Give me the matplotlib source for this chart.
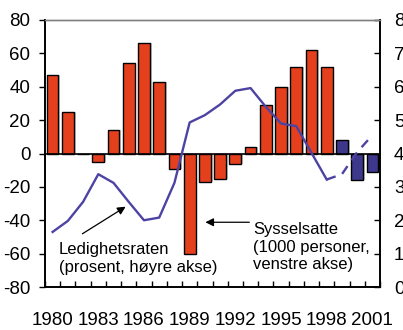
import matplotlib.pyplot as plt
from matplotlib import font_manager

# Employment change (1000 persons, left axis) and unemployment rate (%, right axis)
years = list(range(1980, 2002))
employed = [47, 25, 0, -5, 14, 54, 66, 43, -9, -60, -17, -15, -6, 4, 29, 40, 52, 62, 52,
            8, -16, -11]
forecast_from = 1999
unemployment = [1.65, 1.98, 2.55, 3.38, 3.12, 2.55, 2.0, 2.08, 3.12, 4.93, 5.15, 5.47,
                5.88, 5.96, 5.4, 4.9, 4.82, 4.02, 3.22, 3.38, 4.04, 4.55]
label_years = [1980, 1983, 1986, 1989, 1992, 1995, 1998, 2001]

red = '#e5401d'
blue = '#3d388c'
line_col = '#4d43a3'

plt.rcParams['axes.unicode_minus'] = False

names = {f.name for f in font_manager.fontManager.ttflist}
narrow = 'Liberation Sans Narrow' if 'Liberation Sans Narrow' in names else 'Liberation Sans'
tick_size = 16 if narrow == 'Liberation Sans Narrow' else 13.5

fig = plt.figure(figsize=(4.03, 3.30), dpi=100)
ax = fig.add_axes([45 / 403, 43 / 330, 335 / 403, 267 / 330])
ax2 = ax.twinx()

# Bars with a soft drop shadow
colors = [red if y < forecast_from else blue for y in years]
ax.bar([y + 0.12 for y in years], employed, width=0.77, color='#c8c8c8', zorder=1)
ax.bar(years, employed, width=0.77, color=colors, edgecolor='black', linewidth=1, zorder=2)
ax.axhline(0, color='black', lw=1.2, zorder=3)

# Unemployment line: solid history, dashed projection
n = years.index(1998) + 1
ax2.plot(years[:n], unemployment[:n], color=line_col, lw=1.7, zorder=4)
ax2.plot(years[n - 1:], unemployment[n - 1:], color=line_col, lw=1.7, ls=(0, (4, 3)), zorder=4)

ax.set_xlim(1979.5, 2001.5)
ax.set_ylim(-80, 80)
ax2.set_ylim(0, 8)

ax.set_yticks(range(-80, 81, 20))
ax2.set_yticks(range(0, 9))
ax.set_xticks(label_years)
ax.set_xticks([y - 0.5 for y in years] + [2001.5], minor=True)

ax.tick_params(axis='y', direction='out', length=4, width=1, pad=6.5,
               labelsize=tick_size, labelfontfamily=narrow)
ax2.tick_params(axis='y', direction='in', length=4, width=1, pad=10,
                labelsize=tick_size, labelfontfamily=narrow)
ax.tick_params(axis='x', which='major', length=0, pad=18,
               labelsize=tick_size, labelfontfamily=narrow)
ax.tick_params(axis='x', which='minor', direction='in', length=4, width=1)

for a in (ax, ax2):
    a.spines['top'].set_color('#808080')
    a.spines['top'].set_linewidth(1)
    for s in ('left', 'right', 'bottom'):
        a.spines[s].set_linewidth(1.2)

ann = dict(arrowstyle='-|>', color='black', lw=0.9, mutation_scale=12)
ax.annotate('', xy=(1984.95, -31), xytext=(1981.8, -49), arrowprops=ann, zorder=5)
ax.text(1980.42, -62.9, 'Ledighetsraten\n(prosent, høyre akse)', fontsize=12,
        family='Liberation Sans', ha='left', va='center', linespacing=1.2)
ax.annotate('', xy=(1989.85, -41.2), xytext=(1993.1, -41.2), arrowprops=ann, zorder=5)
ax.text(1993.16, -56.2, 'Sysselsatte\n(1000 personer,\nvenstre akse)', fontsize=12,
        family='Liberation Sans', ha='left', va='center', linespacing=1.2)

fig.savefig('out.png', dpi=100)
